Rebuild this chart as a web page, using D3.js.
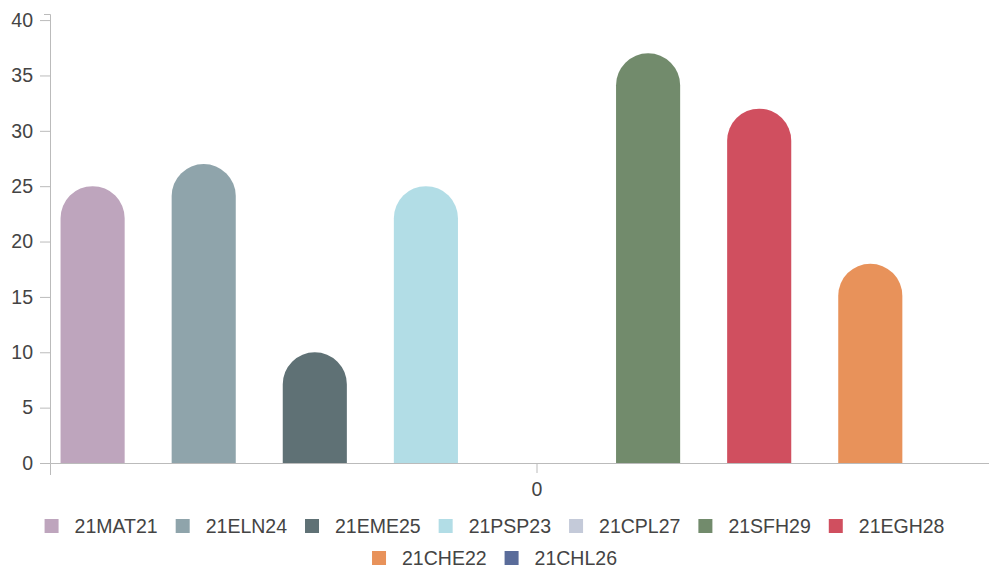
<!DOCTYPE html>
<html>
<head>
<meta charset="utf-8">
<script src="https://cdn.jsdelivr.net/npm/d3@7"></script>
<style>
    body { margin: 0; background: #fff; }
    svg text { font-family: "Liberation Sans", Arial, sans-serif; fill: #444; }
</style>
</head>
<body>
<svg id="chart" width="989" height="570"></svg>
<script>
'use strict';

// data
const categories = ['0'];
const series = ['21MAT21', '21ELN24', '21EME25', '21PSP23', '21CPL27', '21SFH29', '21EGH28', '21CHE22', '21CHL26'];
const values = [25, 27, 10, 25, 0, 37, 32, 18, 0];
const colors = ['#bea5bd', '#8fa4ab', '#5f7175', '#b2dde6', '#c4cad9', '#728b6c', '#d04f5f', '#e8925a', '#5a6c9a'];
const yTicks = [0, 5, 10, 15, 20, 25, 30, 35, 40];

const svg = d3.select('#chart');
const FONT = 19.5;

// scales
let x0 = d3.scaleBand().domain(categories).range([50, 1024]);
let x1 = d3.scaleBand().domain(series)
    .range([0, x0.bandwidth()])
    .paddingInner(0.423)
    .paddingOuter(0.095);
let y = d3.scaleLinear().domain([0, 40.55]).range([463, 14]);
let color = d3.scaleOrdinal().domain(series).range(colors);

// bars with round tops
let bars = svg.append('g');
series.forEach(function(s, i) {
    let v = values[i];
    if (!v) return;
    let xs = x0(categories[0]) + x1(s);
    let w = x1.bandwidth();
    let r = w / 2;
    let top = y(v);
    let base = y(0);
    let p = d3.path();
    p.moveTo(xs, base);
    p.lineTo(xs, top + r);
    p.arc(xs + r, top + r, r, Math.PI, 0);
    p.lineTo(xs + w, base);
    p.closePath();
    bars.append('path')
        .attr('d', p.toString())
        .attr('fill', color(s));
});

// y axis
let yAxis = svg.append('g')
    .attr('transform', 'translate(50,0)')
    .call(d3.axisLeft(y).tickValues(yTicks).tickSize(10).tickSizeOuter(6).tickPadding(7));

// x axis
let xAxis = svg.append('g')
    .attr('transform', 'translate(0,463)')
    .call(d3.axisBottom(x0).tickSize(10).tickSizeOuter(12).tickPadding(9));

[yAxis, xAxis].forEach(function(a) {
    a.selectAll('path, line').attr('stroke', '#bbb');
    a.selectAll('text').attr('font-size', FONT).attr('fill', '#444')
        .style('font-family', '"Liberation Sans", Arial, sans-serif');
});

// legend
let legend = svg.append('g');
let box = 14, gapText = 16, gapItem = 18, maxW = 950;
let items = series.map(function(s) {
    let g = legend.append('g');
    g.append('rect').attr('width', box).attr('height', box).attr('fill', color(s));
    let t = g.append('text').attr('x', box + gapText).attr('y', box / 2)
        .attr('dy', '0.35em').attr('font-size', FONT).text(s);
    return {g: g, w: box + gapText + t.node().getComputedTextLength()};
});
let rows = [[]], rowW = [0];
items.forEach(function(it) {
    let r = rows.length - 1;
    let add = (rows[r].length ? gapItem : 0) + it.w;
    if (rowW[r] + add > maxW) {
        rows.push([it]);
        rowW.push(it.w);
    } else {
        rows[r].push(it);
        rowW[r] += add;
    }
});
rows.forEach(function(row, ri) {
    let xs = (989 - rowW[ri]) / 2;
    let yc = 526 + ri * 32;
    row.forEach(function(it) {
        it.g.attr('transform', 'translate(' + xs + ',' + (yc - box / 2) + ')');
        xs += it.w + gapItem;
    });
});
</script>
</body>
</html>
